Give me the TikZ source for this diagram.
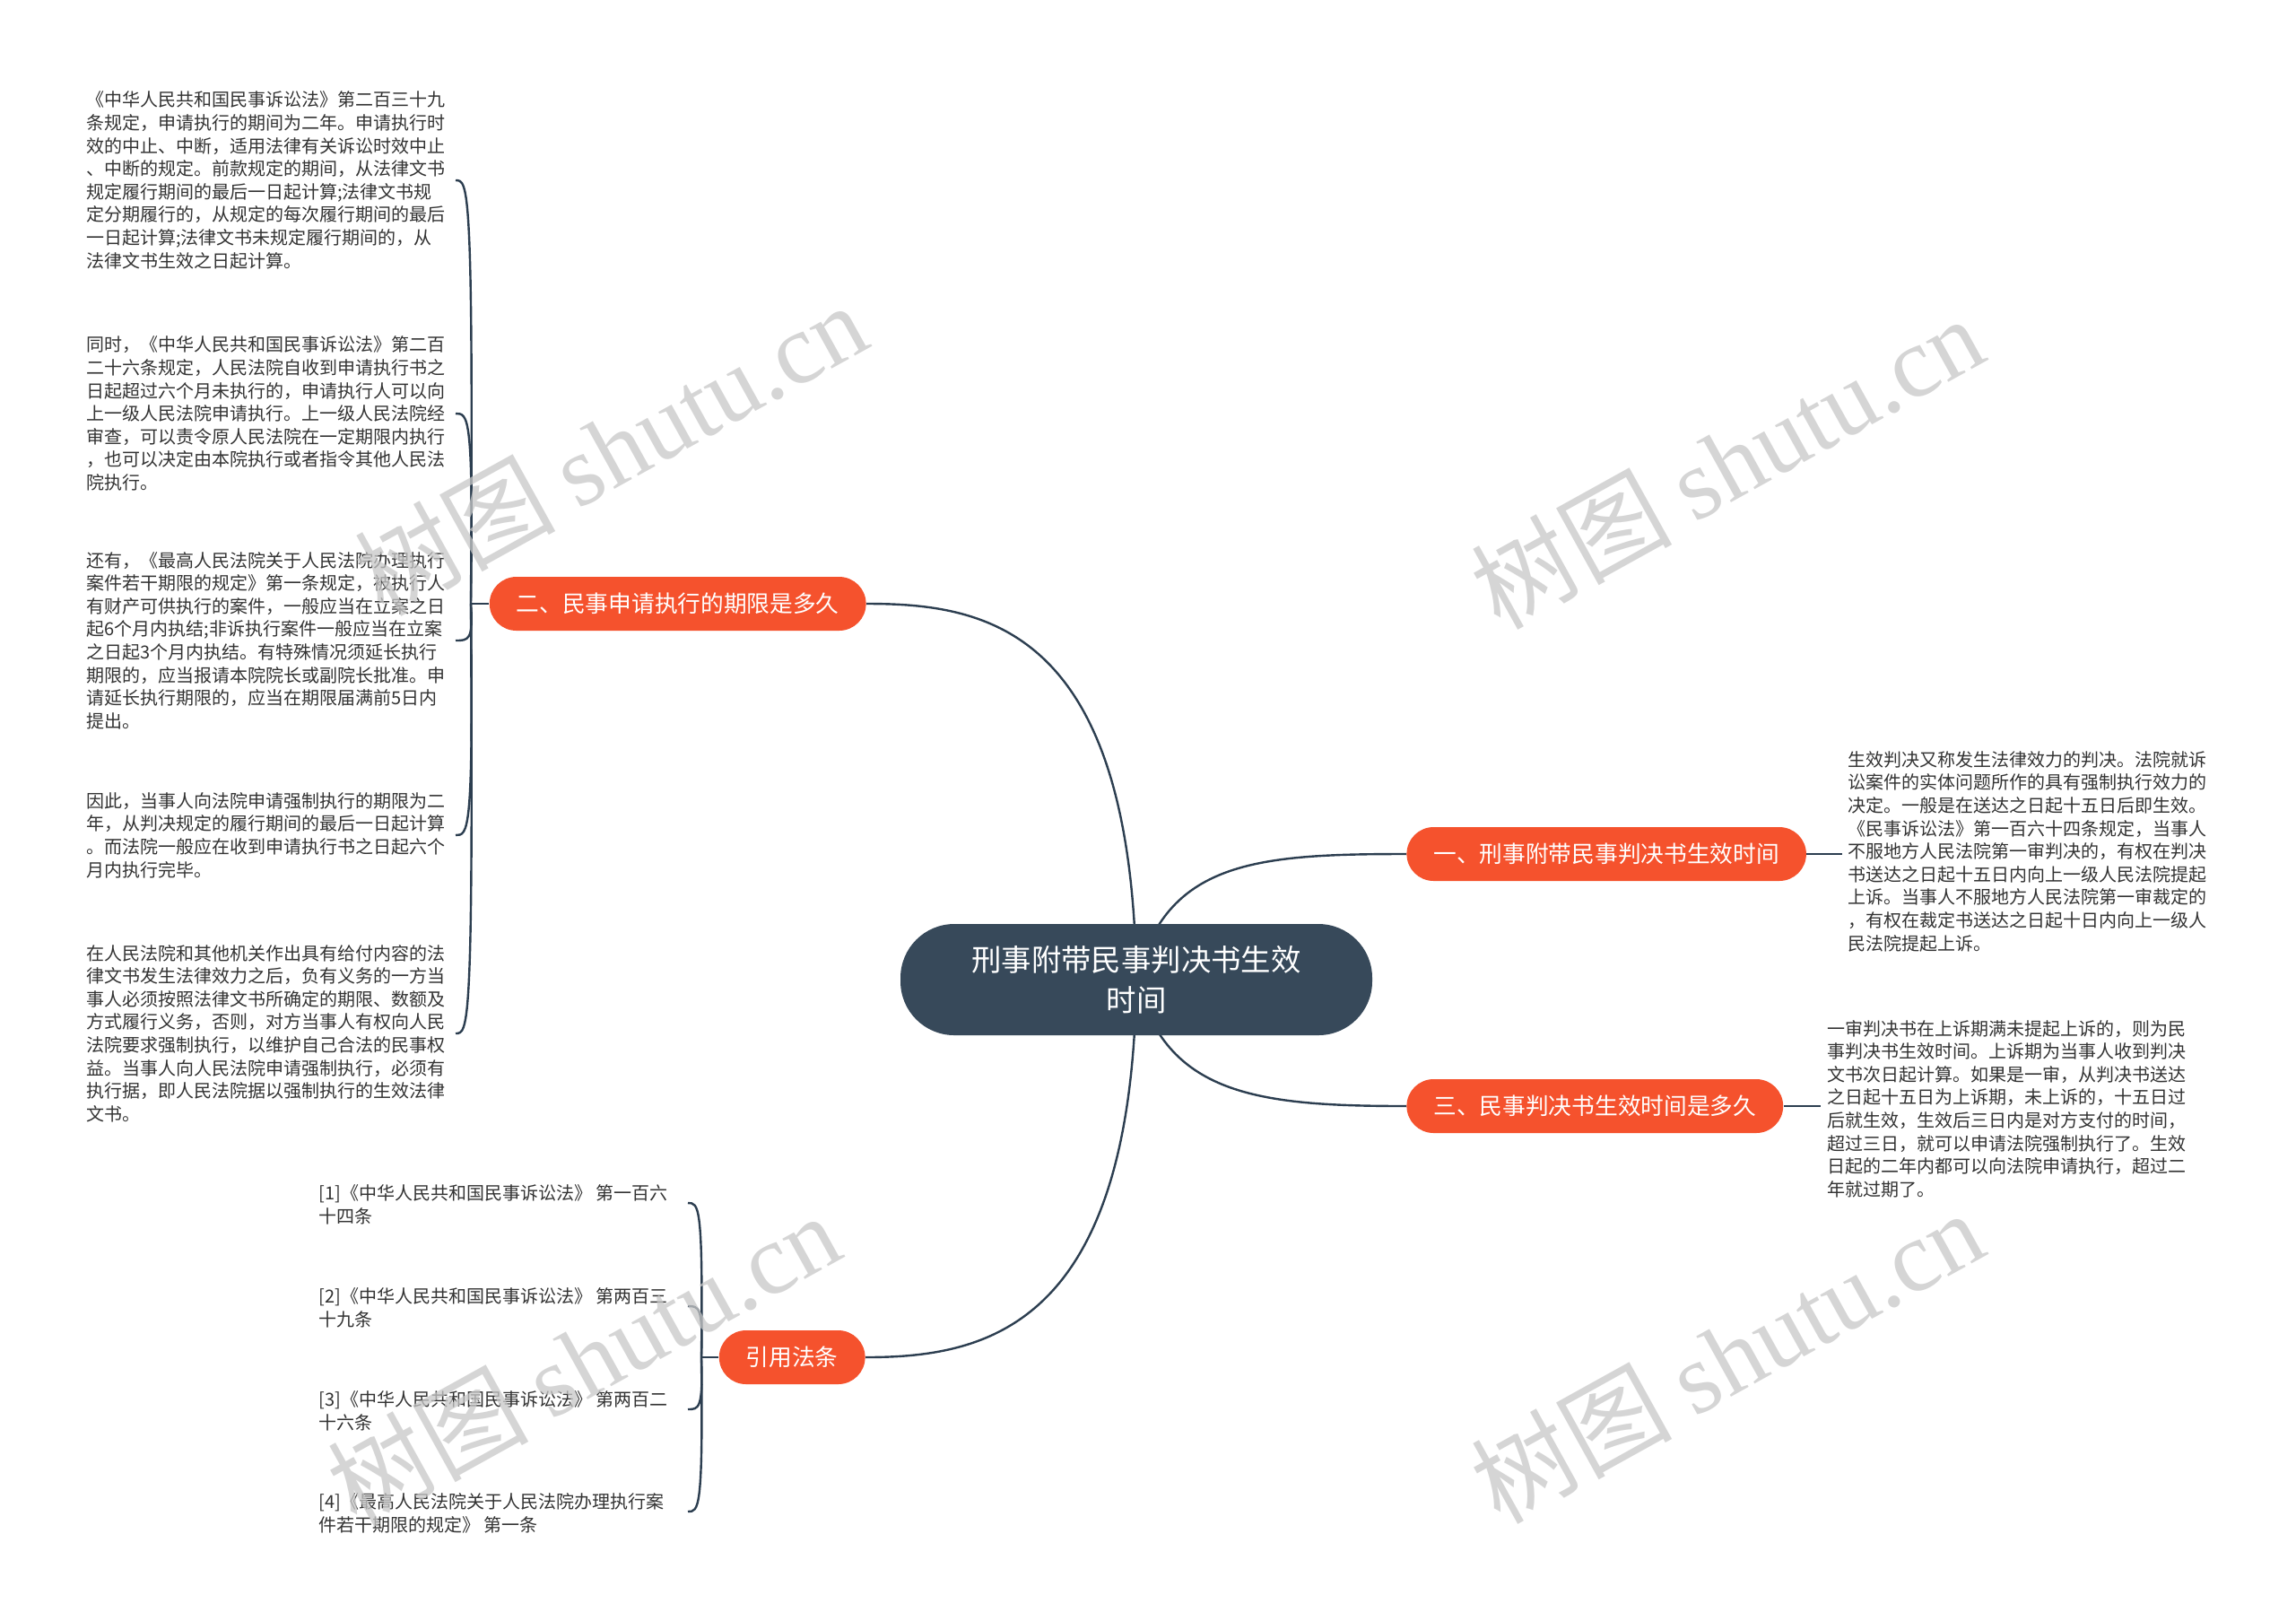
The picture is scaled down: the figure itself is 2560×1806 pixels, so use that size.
\documentclass[tikz,border=0pt]{standalone}
\usepackage{fontspec}
\setmainfont{Noto Sans CJK SC}
\newfontfamily\wmserif{Liberation Serif}
\definecolor{rootc}{HTML}{37495A}
\definecolor{orng}{HTML}{F5522D}
\definecolor{linec}{HTML}{2C3E50}
\definecolor{txtc}{HTML}{333333}
\definecolor{wmc}{HTML}{C8C8C8}
\pgfdeclarelayer{paper}
\pgfdeclarelayer{wires}
\pgfdeclarelayer{marks}
\pgfsetlayers{paper,wires,main,marks}
\begin{document}
\begin{tikzpicture}[x=0.5pt,y=-0.5pt,
  leaf/.style={anchor=west, align=left, inner sep=0pt, font=\fontsize{10}{12.8}\selectfont, text=txtc},
  branch/.style={fill=orng, text=white, rounded corners=15pt, minimum height=30pt, inner xsep=15pt, inner ysep=0pt, font=\fontsize{12.85}{15}\selectfont},
  rootbox/.style={fill=rootc, text=white, rounded corners=30pt, minimum width=263pt, minimum height=62pt, align=center, inner sep=0pt, font=\fontsize{16.7}{22.5}\selectfont},
  conn/.style={draw=linec, line width=1.2pt},
  wm/.style={rotate=29, text=wmc, opacity=0.75, inner sep=0pt, font=\fontsize{56}{56}\selectfont}]
\begin{pgfonlayer}{paper}
\useasboundingbox[fill=white] (0,0) rectangle (2560,1806);
\end{pgfonlayer}

% main nodes
\node[rootbox] (root) at (1267,1092) {刑事附带民事判决书生效\\时间};
\node[branch, anchor=west] (b1) at (1568,952) {一、刑事附带民事判决书生效时间};
\node[branch, anchor=east] (b2) at (966,673) {二、民事申请执行的期限是多久};
\node[branch, anchor=west] (b3) at (1568,1233) {三、民事判决书生效时间是多久};
\node[branch, anchor=east] (b4) at (965,1513) {引用法条};

% leaves of branch 2
\node[leaf] (l1) at (96,201) {《中华人民共和国民事诉讼法》第二百三十九\\条规定，申请执行的期间为二年。申请执行时\\效的中止、中断，适用法律有关诉讼时效中止\\、中断的规定。前款规定的期间，从法律文书\\规定履行期间的最后一日起计算;法律文书规\\定分期履行的，从规定的每次履行期间的最后\\一日起计算;法律文书未规定履行期间的，从\\法律文书生效之日起计算。};
\node[leaf] (l2) at (96,461) {同时，《中华人民共和国民事诉讼法》第二百\\二十六条规定，人民法院自收到申请执行书之\\日起超过六个月未执行的，申请执行人可以向\\上一级人民法院申请执行。上一级人民法院经\\审查，可以责令原人民法院在一定期限内执行\\，也可以决定由本院执行或者指令其他人民法\\院执行。};
\node[leaf] (l3) at (96,714) {还有，《最高人民法院关于人民法院办理执行\\案件若干期限的规定》第一条规定，被执行人\\有财产可供执行的案件，一般应当在立案之日\\起6个月内执结;非诉执行案件一般应当在立案\\之日起3个月内执结。有特殊情况须延长执行\\期限的，应当报请本院院长或副院长批准。申\\请延长执行期限的，应当在期限届满前5日内\\提出。};
\node[leaf] (l4) at (96,931) {因此，当事人向法院申请强制执行的期限为二\\年，从判决规定的履行期间的最后一日起计算\\。而法院一般应在收到申请执行书之日起六个\\月内执行完毕。};
\node[leaf] (l5) at (96,1152) {在人民法院和其他机关作出具有给付内容的法\\律文书发生法律效力之后，负有义务的一方当\\事人必须按照法律文书所确定的期限、数额及\\方式履行义务，否则，对方当事人有权向人民\\法院要求强制执行，以维护自己合法的民事权\\益。当事人向人民法院申请强制执行，必须有\\执行据，即人民法院据以强制执行的生效法律\\文书。};

% right leaves
\node[leaf] (r1) at (2060,949) {生效判决又称发生法律效力的判决。法院就诉\\讼案件的实体问题所作的具有强制执行效力的\\决定。一般是在送达之日起十五日后即生效。\\《民事诉讼法》第一百六十四条规定，当事人\\不服地方人民法院第一审判决的，有权在判决\\书送达之日起十五日内向上一级人民法院提起\\上诉。当事人不服地方人民法院第一审裁定的\\，有权在裁定书送达之日起十日内向上一级人\\民法院提起上诉。};
\node[leaf] (r3) at (2037,1236) {一审判决书在上诉期满未提起上诉的，则为民\\事判决书生效时间。上诉期为当事人收到判决\\文书次日起计算。如果是一审，从判决书送达\\之日起十五日为上诉期，未上诉的，十五日过\\后就生效，生效后三日内是对方支付的时间，\\超过三日，就可以申请法院强制执行了。生效\\日起的二年内都可以向法院申请执行，超过二\\年就过期了。};

% cited leaves
\node[leaf] (c1) at (355,1343) {[1]《中华人民共和国民事诉讼法》 第一百六\\十四条};
\node[leaf] (c2) at (355,1458) {[2]《中华人民共和国民事诉讼法》 第两百三\\十九条};
\node[leaf] (c3) at (355,1573) {[3]《中华人民共和国民事诉讼法》 第两百二\\十六条};
\node[leaf] (c4) at (355,1687) {[4]《最高人民法院关于人民法院办理执行案\\件若干期限的规定》 第一条};

% junctions and free ends
\coordinate (j2) at (525,673);
\coordinate (e1) at (508,201);
\coordinate (e2) at (508,461);
\coordinate (e3) at (508,714);
\coordinate (e4) at (508,931);
\coordinate (e5) at (508,1152);
\coordinate (j4) at (782,1513);
\coordinate (f1) at (767,1341);
\coordinate (f2) at (767,1456);
\coordinate (f3) at (767,1571);
\coordinate (f4) at (767,1685);
\coordinate (k1) at (2054,952);
\coordinate (k3) at (2030,1233);

% connectors, behind the nodes
\begin{pgfonlayer}{wires}
\draw[conn] (root.center) .. controls (1262,700) and (1100,673) .. (b2.east);
\draw[conn] (root.center) .. controls (1262,1480) and (1100,1513) .. (b4.east);
\draw[conn] (root.center) .. controls (1300,960) and (1400,952) .. (b1.west);
\draw[conn] (root.center) .. controls (1300,1220) and (1400,1233) .. (b3.west);
\draw[conn] (b1.east) -- (k1);
\draw[conn] (b3.east) -- (k3);
\draw[conn] (b2.west) -- (j2);
\foreach \e/\t in {e1/201,e2/461,e3/714,e4/931,e5/1152}
  \draw[conn] (j2) .. controls (528,\t) and (522,\t) .. (\e);
\draw[conn] (b4.west) -- (j4);
\foreach \e/\t in {f1/1341,f2/1456,f3/1571,f4/1685}
  \draw[conn] (j4) .. controls (784,\t) and (779,\t) .. (\e);
\end{pgfonlayer}

% watermarks
\begin{pgfonlayer}{marks}
\node[wm] (w1) at (680,500) {树图 {\wmserif shutu.cn}};
\node[wm] (w2) at (1925,515) {树图 {\wmserif shutu.cn}};
\node[wm] (w3) at (650,1515) {树图 {\wmserif shutu.cn}};
\node[wm] (w4) at (1925,1512) {树图 {\wmserif shutu.cn}};
\end{pgfonlayer}
\end{tikzpicture}
\end{document}
